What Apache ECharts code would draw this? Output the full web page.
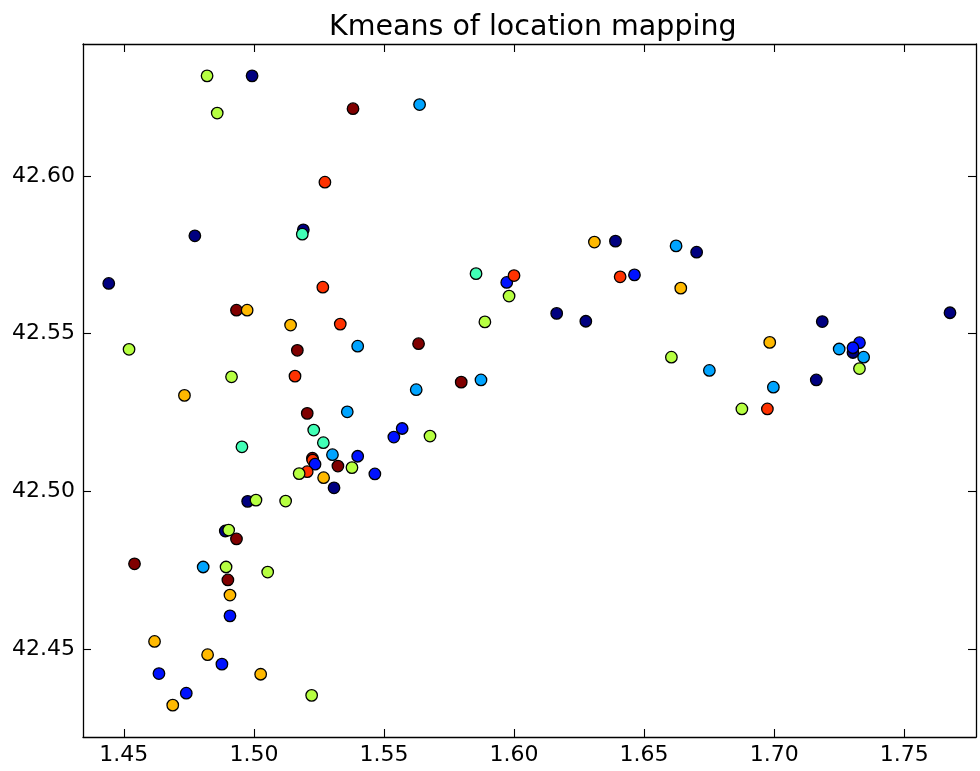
<!DOCTYPE html>
<html>
<head>
<meta charset="utf-8">
<title>Kmeans of location mapping</title>
<script src="https://cdn.jsdelivr.net/npm/echarts@6/dist/echarts.min.js"></script>
<style>
  html, body { margin: 0; padding: 0; background: #ffffff; }
  #chart { width: 980px; height: 771px; }
</style>
</head>
<body>
<div id="chart"></div>
<script>
// Longitude / latitude of each location and the k-means cluster it was assigned to (k = 8)
const lon = [
  1.4820, 1.4993, 1.4859, 1.5381, 1.5637, 1.5273, 1.4773, 1.5190, 1.5186, 1.6309,
  1.6390, 1.6623, 1.6702, 1.4442, 1.5854, 1.5265, 1.5972, 1.6000, 1.6408, 1.6463,
  1.6641, 1.5981, 1.4933, 1.4974, 1.6164, 1.6276, 1.5888, 1.5141, 1.5332, 1.7185,
  1.7676, 1.4520, 1.5167, 1.5399, 1.5633, 1.6983, 1.7250, 1.7303, 1.7328, 1.7303,
  1.7344, 1.7328, 1.6605, 1.4914, 1.5158, 1.5797, 1.5873, 1.6751, 1.7162, 1.5624,
  1.6997, 1.4733, 1.6876, 1.6974, 1.5205, 1.5359, 1.5230, 1.5570, 1.5538, 1.5677,
  1.4954, 1.5267, 1.5302, 1.5399, 1.5225, 1.5226, 1.5235, 1.5205, 1.5323, 1.5377,
  1.5174, 1.5465, 1.5268, 1.5308, 1.4976, 1.5008, 1.5122, 1.4890, 1.4903, 1.4933,
  1.4541, 1.4805, 1.4893, 1.5053, 1.4900, 1.4908, 1.4908, 1.4618, 1.4822, 1.4877,
  1.4635, 1.5026, 1.4740, 1.4688, 1.5222
];
const lat = [
  42.6317, 42.6317, 42.6199, 42.6213, 42.6226, 42.5980, 42.5810, 42.5829, 42.5815, 42.5790,
  42.5793, 42.5778, 42.5758, 42.5659, 42.5690, 42.5647, 42.5662, 42.5684, 42.5680, 42.5686,
  42.5644, 42.5619, 42.5574, 42.5574, 42.5564, 42.5539, 42.5537, 42.5527, 42.5530, 42.5538,
  42.5566, 42.5450, 42.5447, 42.5460, 42.5468, 42.5472, 42.5451, 42.5440, 42.5471, 42.5455,
  42.5425, 42.5389, 42.5425, 42.5363, 42.5365, 42.5346, 42.5353, 42.5383, 42.5353, 42.5322,
  42.5330, 42.5304, 42.5261, 42.5261, 42.5247, 42.5252, 42.5194, 42.5199, 42.5172, 42.5175,
  42.5141, 42.5154, 42.5116, 42.5111, 42.5105, 42.5099, 42.5086, 42.5062, 42.5080, 42.5075,
  42.5056, 42.5055, 42.5043, 42.5011, 42.4968, 42.4972, 42.4969, 42.4874, 42.4877, 42.4849,
  42.4770, 42.4760, 42.4760, 42.4744, 42.4719, 42.4671, 42.4605, 42.4524, 42.4482, 42.4452,
  42.4422, 42.4420, 42.4360, 42.4322, 42.4353
];
const cluster = [
  4, 0, 4, 7, 2, 6, 0, 0, 3, 5,
  0, 2, 0, 0, 3, 6, 1, 6, 6, 1,
  5, 4, 7, 5, 0, 0, 4, 5, 6, 0,
  0, 4, 7, 2, 7, 5, 2, 0, 1, 1,
  2, 4, 4, 4, 6, 7, 2, 2, 0, 2,
  2, 5, 4, 6, 7, 2, 3, 1, 1, 4,
  3, 3, 2, 1, 7, 6, 1, 6, 7, 4,
  4, 1, 5, 0, 0, 4, 4, 0, 4, 7,
  7, 2, 4, 4, 7, 5, 1, 5, 5, 1,
  1, 5, 1, 5, 4
];

// Axis tick positions
const xTicks = [1.45, 1.50, 1.55, 1.60, 1.65, 1.70, 1.75];
const yTicks = [42.45, 42.50, 42.55, 42.60];
const xRange = [1.4343, 1.7776];
const yRange = [42.4221, 42.6418];

// jet colormap sampled at cluster / 7
const clusterColors = ['#000080', '#0012ff', '#00a4ff', '#41ffb6', '#b6ff41', '#ffb900', '#ff3200', '#800000'];

const points = lon.map((x, i) => [x, lat[i], cluster[i]]);

const fontFamily = 'DejaVu Sans';
const frame = { show: true, lineStyle: { color: '#000000', width: 1.3 } };
const ticksInside = (vals) => ({
  show: true, inside: true, length: 8, customValues: vals,
  lineStyle: { color: '#000000', width: 1.1 }
});

function xAxisDef(position, withLabels) {
  return {
    type: 'value', position: position, min: xRange[0], max: xRange[1],
    axisLine: frame,
    axisTick: ticksInside(xTicks),
    splitLine: { show: false },
    axisLabel: withLabels ? {
      show: true, customValues: xTicks, margin: 7,
      color: '#000000', fontFamily: fontFamily, fontSize: 22,
      formatter: (v) => v.toFixed(2)
    } : { show: false }
  };
}
function yAxisDef(position, withLabels) {
  return {
    type: 'value', position: position, min: yRange[0], max: yRange[1],
    axisLine: frame,
    axisTick: ticksInside(yTicks),
    splitLine: { show: false },
    axisLabel: withLabels ? {
      show: true, customValues: yTicks, margin: 8,
      color: '#000000', fontFamily: fontFamily, fontSize: 22,
      formatter: (v) => v.toFixed(2)
    } : { show: false }
  };
}

const chart = echarts.init(document.getElementById('chart'), null, { renderer: 'canvas' });
chart.setOption({
  backgroundColor: '#ffffff',
  animation: false,
  // title centred over the plot frame rather than the whole canvas
  title: {
    text: 'Kmeans of location mapping',
    left: 324, top: 8,
    textStyle: { fontFamily: fontFamily, fontSize: 28.5, fontWeight: 'normal', color: '#000000' }
  },
  grid: { left: 83, right: 4, top: 44, bottom: 34, containLabel: false },
  xAxis: [xAxisDef('bottom', true), xAxisDef('top', false)],
  yAxis: [yAxisDef('left', true), yAxisDef('right', false)],
  series: [{
    type: 'scatter',
    xAxisIndex: 0, yAxisIndex: 0,
    data: points,
    symbol: 'circle',
    symbolSize: 11.5,
    itemStyle: {
      color: (p) => clusterColors[p.data[2]],
      borderColor: '#000000',
      borderWidth: 1.3,
      opacity: 1
    },
    emphasis: { disabled: true }
  }]
});
</script>
</body>
</html>
